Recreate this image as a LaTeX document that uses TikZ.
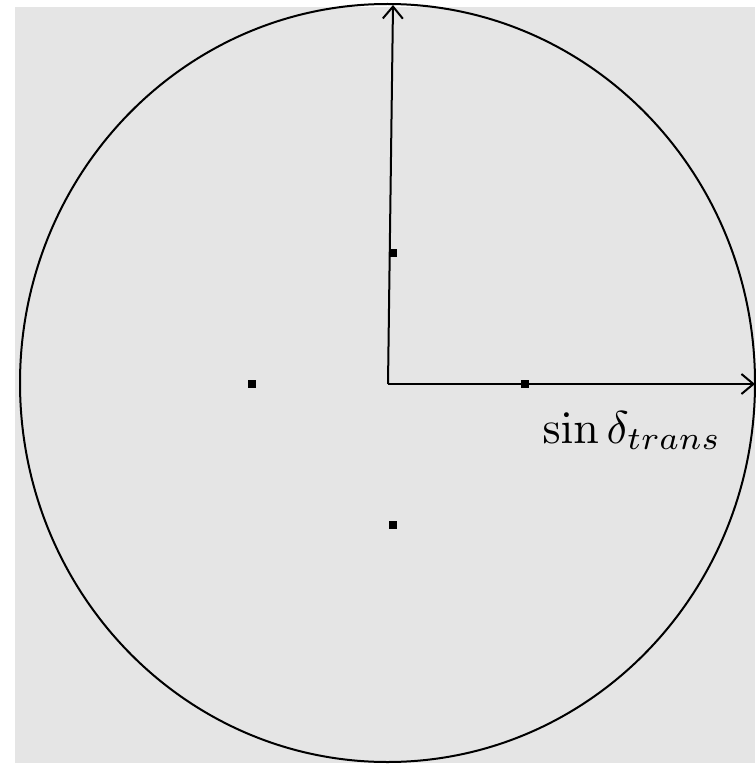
\documentclass[tikz,border=0pt]{standalone}
\usepackage{amsmath, amssymb}
\usetikzlibrary{arrows.meta}

\begin{document}
\begin{tikzpicture}[
  x=1pt, y=-1pt,
  dot/.style={rectangle, fill=black, minimum size=7.5pt,
              inner sep=0pt},
  axis/.style={draw, line width=2pt,
               -{Straight Barb[length=12pt, width=20pt, line width=2pt]}},
  rim/.style={draw, line width=2pt},
  lbl/.style={anchor=base, inner sep=0pt, font=\normalsize, scale=4.6}
]
  \useasboundingbox (0,0) rectangle (755,765);
  \fill[gray!20] (15,7) rectangle (755,763);
  % unit ellipse, slightly squashed
  \coordinate (C) at (387.5,383);
  \draw[rim] (C) ellipse [x radius=367.5, y radius=379];
  % axes
  \coordinate (O) at (388,384);
  \coordinate (Ytip) at (393,5);
  \coordinate (Xtip) at (755,384);
  \draw[axis] (O) -- (Ytip);
  \draw[axis] (O) -- (Xtip);
  % sample points
  \foreach \px/\py/\nm in {393/253/N, 252/384/W, 525/384/E, 393/525/S}
    {\node[dot] (\nm) at (\px,\py) {};}
  \node[lbl] (L) at (632,443) {$\sin\delta_{trans}$};
\end{tikzpicture}
\end{document}
